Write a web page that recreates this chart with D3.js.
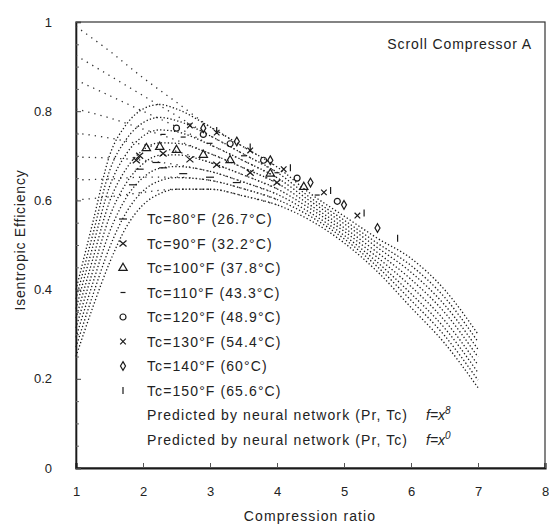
<!DOCTYPE html>
<html><head><meta charset="utf-8">
<script src="https://cdn.jsdelivr.net/npm/d3@7"></script>
<style>
body{margin:0;background:#fff;}
svg{display:block;font-family:"Liberation Sans",Arial,sans-serif;}
</style></head><body>
<svg id="c" width="549" height="527"></svg>
<script>
// ---- data ----
const xTicks = [1,2,3,4,5,6,7,8];
const yTicks = [0,0.2,0.4,0.6,0.8,1];
const yTickLabels = ["0","0.2","0.4","0.6","0.8","1"];
const tcLabels = ["Tc=80°F (26.7°C)","Tc=90°F (32.2°C)","Tc=100°F (37.8°C)","Tc=110°F (43.3°C)",
                  "Tc=120°F (48.9°C)","Tc=130°F (54.4°C)","Tc=140°F (60°C)","Tc=150°F (65.6°C)"];
const tcSymbols = ["dash","xbig","triangle","dashShort","circle","x","diamond","bar"];
const nnLabel = "Predicted by neural network (Pr, Tc)";
const nnExps = ["8","0"];

// neural network curves f=x^8 (pressure ratio grid and efficiency values)
const prGrid = [1,1.25,1.5,1.75,2,2.25,2.5,3,3.5,4,4.5,5,5.5,6,6.5,7];
const nnX8 = [
 [0.400,0.550,0.700,0.770,0.805,0.815,0.805,0.765,0.720,0.675,0.615,0.565,0.515,0.470,0.400,0.300],
 [0.379,0.523,0.666,0.737,0.774,0.786,0.779,0.745,0.704,0.663,0.606,0.556,0.504,0.454,0.383,0.283],
 [0.357,0.496,0.631,0.704,0.744,0.758,0.754,0.725,0.689,0.651,0.598,0.548,0.494,0.439,0.366,0.266],
 [0.336,0.468,0.597,0.671,0.713,0.729,0.728,0.705,0.673,0.639,0.589,0.539,0.483,0.423,0.349,0.249],
 [0.314,0.441,0.563,0.639,0.682,0.701,0.702,0.685,0.657,0.626,0.581,0.531,0.472,0.407,0.331,0.231],
 [0.293,0.414,0.529,0.606,0.651,0.672,0.676,0.665,0.641,0.614,0.572,0.522,0.461,0.391,0.314,0.214],
 [0.271,0.387,0.494,0.573,0.621,0.644,0.651,0.645,0.626,0.602,0.564,0.514,0.451,0.376,0.297,0.197],
 [0.250,0.360,0.460,0.540,0.590,0.615,0.625,0.625,0.610,0.590,0.555,0.505,0.440,0.360,0.280,0.180]
];
// neural network curves f=x^0 at low pressure ratios (join the f=x^8 curves from Pr=3)
const prLow = [1,1.5,2,2.5];
const nnX0Low = [
 [0.990,0.935,0.875,0.820],
 [0.925,0.880,0.835,0.790],
 [0.870,0.835,0.800,0.765],
 [0.805,0.785,0.760,0.735],
 [0.751,0.740,0.725,0.710],
 [0.697,0.695,0.690,0.680],
 [0.646,0.648,0.652,0.652],
 [0.601,0.608,0.618,0.625]
];
// measured data per Tc: pressure ratio, efficiency
const measPr = [
 [1.85,1.95,2.20,2.30,2.60,3.00,3.40],
 [1.90,1.95,2.30,2.70,3.10,3.60,4.00],
 [2.05,2.25,2.50,2.90,3.30,3.90,4.40],
 [2.30,2.60,3.00,3.50,4.00,4.60],
 [2.50,2.90,3.30,3.80,4.30,4.90],
 [2.70,3.10,3.60,4.10,4.70,5.20],
 [2.90,3.40,3.90,4.50,5.00,5.50],
 [3.10,3.60,4.20,4.80,5.30,5.80]
];
const measEff = [
 [0.635,0.670,0.685,0.673,0.660,0.652,0.640],
 [0.690,0.700,0.705,0.692,0.680,0.662,0.640],
 [0.717,0.720,0.713,0.702,0.690,0.660,0.630],
 [0.748,0.742,0.728,0.700,0.662,0.612],
 [0.762,0.748,0.727,0.690,0.650,0.598],
 [0.768,0.752,0.712,0.670,0.618,0.566],
 [0.762,0.732,0.690,0.640,0.590,0.538],
 [0.757,0.720,0.673,0.622,0.572,0.515]
];

// ---- layout ----
const L=76, R=545, T=22, B=468;
const svg = d3.select("#c");
const x = d3.scaleLinear().domain([1,8]).range([L,R]);
const y = d3.scaleLinear().domain([0,1]).range([B,T]);
const ink = "#1a1a1a";

// frame
svg.append("rect").attr("x",L).attr("y",T).attr("width",R-L).attr("height",B-T)
  .attr("fill","none").attr("stroke","#333").attr("stroke-width",1.2);

// axes
const gx = svg.append("g").attr("transform",`translate(0,${B})`)
  .call(d3.axisBottom(x).tickValues(xTicks).tickSize(-5).tickPadding(12).tickFormat(d3.format("d")));
gx.select(".domain").attr("stroke",ink).attr("stroke-width",2.2);
gx.selectAll(".tick line").attr("stroke","#555");
gx.selectAll("text").attr("font-size",13).attr("fill","#222")
  .attr("font-family","'Liberation Sans',Arial,sans-serif").attr("dy","1.2em");

const gy = svg.append("g").attr("transform",`translate(${L},0)`)
  .call(d3.axisLeft(y).tickValues(yTicks).tickSize(-5).tickPadding(24)
    .tickFormat((d,i)=>yTickLabels[i]));
gy.select(".domain").attr("stroke",ink).attr("stroke-width",1.6);
gy.selectAll(".tick line").attr("stroke","#444");
gy.selectAll("text").attr("font-size",13).attr("fill","#222")
  .attr("font-family","'Liberation Sans',Arial,sans-serif");
// minor y ticks
const gyMinor = svg.append("g").attr("transform",`translate(${L},0)`)
  .call(d3.axisLeft(y).tickValues(d3.range(0.05,1,0.05).filter(v=>Math.abs(v*5-Math.round(v*5))>1e-6))
    .tickSize(-3).tickFormat(""));
gyMinor.select(".domain").remove();
gyMinor.selectAll(".tick line").attr("stroke","#666");

// axis titles
svg.append("text").attr("x",310).attr("y",521).attr("text-anchor","middle")
  .attr("font-size",14).attr("letter-spacing",1.1).attr("fill","#222").text("Compression ratio");
svg.append("text").attr("transform","translate(25,240) rotate(-90)").attr("text-anchor","middle")
  .attr("font-size",14).attr("letter-spacing",0.8).attr("fill","#222").text("Isentropic Efficiency");

// title
svg.append("text").attr("x",532).attr("y",49).attr("text-anchor","end")
  .attr("font-size",14).attr("letter-spacing",0.9).attr("fill","#222").text("Scroll Compressor A");

// curves
const line = d3.line().x(d=>x(d[0])).y(d=>y(d[1])).curve(d3.curveMonotoneX);
const gc = svg.append("g");
nnX8.forEach(vals=>{
  gc.append("path").datum(prGrid.map((p,i)=>[p,vals[i]]))
    .attr("d",line).attr("fill","none").attr("stroke",ink)
    .attr("stroke-width",1.3).attr("stroke-dasharray","1.3,2.2");
});
nnX0Low.forEach((vals,k)=>{
  const pts = prLow.map((p,i)=>[p,vals[i]])
    .concat(prGrid.map((p,i)=>[p,nnX8[k][i]]).filter(d=>d[0]>=3 && d[0]<=4));
  gc.append("path").datum(pts)
    .attr("d",line).attr("fill","none").attr("stroke","#333")
    .attr("stroke-width",1.3).attr("stroke-dasharray","1.3,5");
});

// markers
function marker(g,type){
  const s = {stroke:ink,"stroke-width":1.2,fill:"none"};
  let p;
  switch(type){
    case "dash": p=g.append("path").attr("d","M-4,0H4"); break;
    case "xbig": p=g.append("path").attr("d","M-3.5,-3L3.5,3M-3.5,3L3.5,-3"); break;
    case "triangle": p=g.append("path").attr("d",d3.symbol(d3.symbolTriangle,30)()); break;
    case "dashShort": p=g.append("path").attr("d","M-2.5,0H2.5"); break;
    case "circle": p=g.append("circle").attr("r",3); break;
    case "x": p=g.append("path").attr("d","M-2.8,-2.8L2.8,2.8M-2.8,2.8L2.8,-2.8"); break;
    case "diamond": p=g.append("path").attr("d",d3.symbol(d3.symbolDiamond,22)()); break;
    case "bar": p=g.append("path").attr("d","M0,-3.5V3.5"); break;
  }
  Object.entries(s).forEach(([k,v])=>p.attr(k,v));
}
const gm = svg.append("g");
measPr.forEach((prs,k)=>{
  prs.forEach((p,i)=>{
    const g = gm.append("g").attr("transform",`translate(${x(p)},${y(measEff[k][i])})`);
    marker(g,tcSymbols[k]);
  });
});

// legend
const lg = svg.append("g");
const rowY = i => 219 + i*24.5;
tcLabels.forEach((t,i)=>{
  const g = lg.append("g").attr("transform",`translate(123,${rowY(i)})`);
  marker(g,tcSymbols[i]);
  lg.append("text").attr("x",147).attr("y",rowY(i)+5).attr("font-size",14)
    .attr("letter-spacing",1.1).attr("fill","#222").text(t);
});
nnExps.forEach((e,j)=>{
  const yy = rowY(8+j)+5;
  lg.append("text").attr("x",147).attr("y",yy).attr("font-size",14)
    .attr("letter-spacing",1.1).attr("fill","#222").text(nnLabel);
  const t = lg.append("text").attr("x",426).attr("y",yy).attr("font-size",14)
    .attr("font-style","italic").attr("fill","#222");
  t.append("tspan").text("f=x");
  t.append("tspan").attr("dy",-6).attr("font-size",10).text(e);
});
</script>
</body></html>
